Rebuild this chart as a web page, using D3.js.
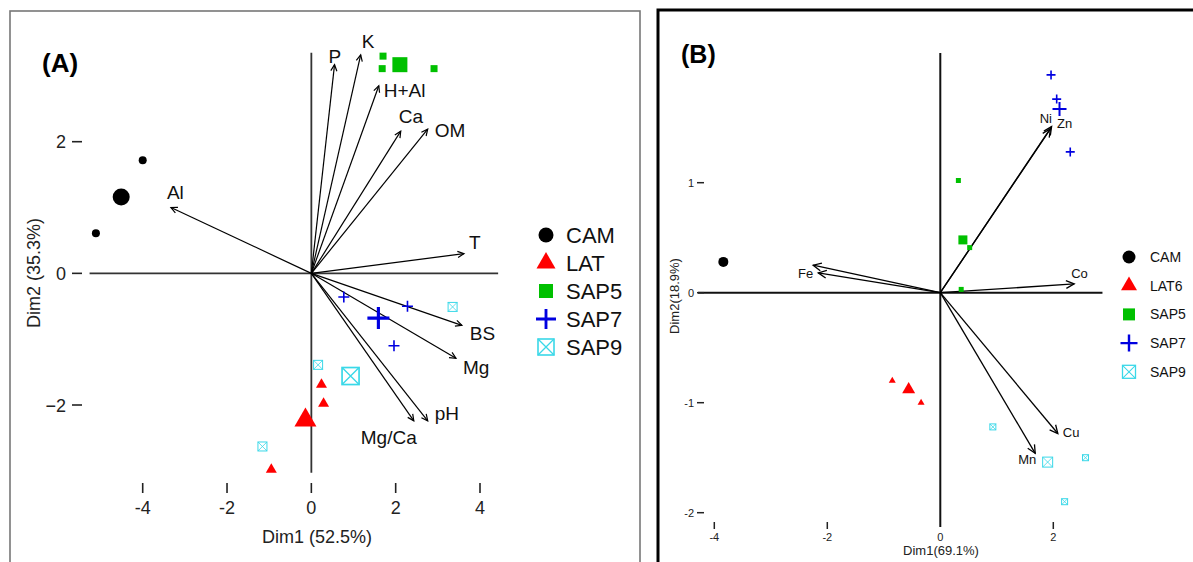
<!DOCTYPE html>
<html>
<head>
<meta charset="utf-8">
<script src="https://cdn.jsdelivr.net/npm/d3@7"></script>
<style>
  body { margin: 0; background: #fff; }
  text { font-family: "Liberation Sans", Arial, sans-serif; }
</style>
</head>
<body>
<script>
// ---- data ----
// panel A: soil attributes
var groupsA = ["CAM", "LAT", "SAP5", "SAP7", "SAP9"];
var ptGroupA = ["CAM", "CAM", "CAM", "LAT", "LAT", "LAT", "LAT", "SAP5", "SAP5", "SAP5", "SAP5", "SAP7", "SAP7", "SAP7", "SAP7", "SAP9", "SAP9", "SAP9", "SAP9"];
var ptXA = [-4.0, -5.11, -4.51, 0.24, 0.29, -0.14, -0.95, 1.70, 1.68, 2.10, 2.91, 0.77, 2.28, 1.59, 1.96, 3.35, 0.16, 0.93, -1.16];
var ptYA = [1.72, 0.61, 1.16, -1.69, -1.98, -2.23, -2.98, 3.30, 3.11, 3.17, 3.11, -0.36, -0.50, -0.68, -1.10, -0.51, -1.39, -1.56, -2.63];
var ptMeanA = [0, 0, 1, 0, 0, 1, 0, 0, 0, 1, 0, 0, 0, 1, 0, 0, 0, 1, 0];
var varsA = ["P", "K", "H+Al", "Ca", "OM", "T", "Al", "BS", "Mg", "pH", "Mg/Ca"];
var varXA = [0.55, 1.17, 1.60, 2.12, 2.76, 3.62, -3.33, 3.57, 3.43, 2.76, 2.43];
var varYA = [3.17, 3.32, 2.85, 2.16, 2.19, 0.30, 1.00, -0.79, -1.29, -2.24, -2.24];
var ticksXA = [-4, -2, 0, 2, 4];
var ticksYA = [-2, 0, 2];

// panel B: micronutrients
var groupsB = ["CAM", "LAT6", "SAP5", "SAP7", "SAP9"];
var ptGroupB = ["CAM", "LAT6", "LAT6", "LAT6", "SAP5", "SAP5", "SAP5", "SAP5", "SAP7", "SAP7", "SAP7", "SAP7", "SAP9", "SAP9", "SAP9", "SAP9"];
var ptXB = [-3.84, -0.85, -0.56, -0.34, 0.32, 0.40, 0.52, 0.37, 1.96, 2.06, 2.11, 2.30, 0.93, 1.90, 2.57, 2.20];
var ptYB = [0.28, -0.80, -0.88, -1.00, 1.02, 0.48, 0.41, 0.03, 1.98, 1.76, 1.67, 1.28, -1.22, -1.54, -1.50, -1.90];
var ptMeanB = [1, 0, 1, 0, 0, 1, 0, 0, 0, 0, 1, 0, 0, 1, 0, 0];
var varsB = ["", "Fe", "Ni", "Zn", "Co", "Cu", "Mn"];
var varXB = [-2.25, -2.16, 1.95, 1.97, 2.37, 2.08, 1.68];
var varYB = [0.25, 0.18, 1.49, 1.51, 0.08, -1.28, -1.46];
var ticksXB = [-4, -2, 0, 2];
var ticksYB = [-2, -1, 0, 1];

// ---- styling / layout ----
var colors = { CAM: "#000000", LAT: "#ff0000", LAT6: "#ff0000", SAP5: "#00c000", SAP7: "#0000e0", SAP9: "#3ad8e8" };
var shapes = { CAM: "circle", LAT: "tri", LAT6: "tri", SAP5: "square", SAP7: "plus", SAP9: "box" };

// label offsets from arrow tips (px): [dx, dy, anchor]
var labOffA = {
  "P": [-6, -2, "start"], "K": [1, -7, "start"], "H+Al": [5, 11, "start"], "Ca": [-2, -8, "start"],
  "OM": [7, 8, "start"], "T": [5, -5, "start"], "Al": [-4, -9, "start"], "BS": [8, 15, "start"],
  "Mg": [7, 16, "start"], "pH": [7, -1, "start"], "Mg/Ca": [-53, 23, "start"]
};
var labOffB = {
  "Fe": [-5, 5, "end"], "Ni": [1.5, -6, "end"], "Zn": [5.5, 1, "start"], "Co": [-3, -6, "start"],
  "Cu": [5, 3, "start"], "Mn": [1, 11, "end"]
};

var svg = d3.select("body").append("svg").attr("width", 1193).attr("height", 562);

function drawSym(g, grp, cx, cy, s) {
  var c = colors[grp], sh = shapes[grp];
  if (sh == "circle") {
    g.append("circle").attr("cx", cx).attr("cy", cy).attr("r", s / 2).attr("fill", c);
  } else if (sh == "tri") {
    var h = s * 0.866;
    g.append("path").attr("d", "M" + cx + "," + (cy - h * 2 / 3) + "L" + (cx - s / 2) + "," + (cy + h / 3) + "L" + (cx + s / 2) + "," + (cy + h / 3) + "Z").attr("fill", c);
  } else if (sh == "square") {
    g.append("rect").attr("x", cx - s / 2).attr("y", cy - s / 2).attr("width", s).attr("height", s).attr("fill", c);
  } else if (sh == "plus") {
    var w = Math.max(1.6, s / 7);
    g.append("path").attr("d", "M" + (cx - s / 2) + "," + cy + "H" + (cx + s / 2) + "M" + cx + "," + (cy - s / 2) + "V" + (cy + s / 2))
      .attr("stroke", c).attr("stroke-width", w).attr("fill", "none");
  } else {
    var r = s / 2, sw = Math.max(1, s / 10);
    g.append("rect").attr("x", cx - r).attr("y", cy - r).attr("width", s).attr("height", s)
      .attr("fill", "none").attr("stroke", c).attr("stroke-width", sw);
    g.append("path").attr("d", "M" + (cx - r) + "," + (cy - r) + "L" + (cx + r) + "," + (cy + r) + "M" + (cx + r) + "," + (cy - r) + "L" + (cx - r) + "," + (cy + r))
      .attr("stroke", c).attr("stroke-width", sw * 0.8);
  }
}

function arrow(g, x0, y0, x1, y1, len, width) {
  var a = Math.atan2(y1 - y0, x1 - x0), sp = 0.45;
  g.append("line").attr("x1", x0).attr("y1", y0).attr("x2", x1).attr("y2", y1)
    .attr("stroke", "#000").attr("stroke-width", width);
  g.append("path")
    .attr("d", "M" + (x1 - len * Math.cos(a - sp)) + "," + (y1 - len * Math.sin(a - sp)) + "L" + x1 + "," + y1 +
      "L" + (x1 - len * Math.cos(a + sp)) + "," + (y1 - len * Math.sin(a + sp)))
    .attr("stroke", "#000").attr("stroke-width", width).attr("fill", "none");
}

// ================= panel A =================
var gA = svg.append("g");
gA.append("rect").attr("x", 10).attr("y", 11).attr("width", 630).attr("height", 570)
  .attr("fill", "none").attr("stroke", "#777").attr("stroke-width", 1.6);

var xA = d3.scaleLinear().domain([-4, 4]).range([142.7, 480]);
var yA = d3.scaleLinear().domain([-2, 2]).range([405, 141.7]);

// zero lines
gA.append("line").attr("x1", xA(-5.26)).attr("x2", xA(4.43)).attr("y1", yA(0)).attr("y2", yA(0))
  .attr("stroke", "#333").attr("stroke-width", 1.8);
gA.append("line").attr("x1", xA(0)).attr("x2", xA(0)).attr("y1", yA(3.35)).attr("y2", yA(-3.03))
  .attr("stroke", "#333").attr("stroke-width", 1.8);

// ticks
ticksXA.forEach(function (t) {
  gA.append("line").attr("x1", xA(t)).attr("x2", xA(t)).attr("y1", 483).attr("y2", 493)
    .attr("stroke", "#222").attr("stroke-width", 1.6);
  gA.append("text").attr("x", xA(t)).attr("y", 514).attr("text-anchor", "middle")
    .attr("font-size", 18).attr("fill", "#222").text(String(t));
});
ticksYA.forEach(function (t) {
  gA.append("line").attr("x1", 72).attr("x2", 82).attr("y1", yA(t)).attr("y2", yA(t))
    .attr("stroke", "#222").attr("stroke-width", 1.6);
  gA.append("text").attr("x", 66).attr("y", yA(t) + 6.5).attr("text-anchor", "end")
    .attr("font-size", 18).attr("fill", "#222").text(String(t).replace("-", "\u2212"));
});

gA.append("text").attr("x", 317).attr("y", 543).attr("text-anchor", "middle")
  .attr("font-size", 18).attr("fill", "#222").text("Dim1 (52.5%)");
gA.append("text").attr("transform", "translate(40,273) rotate(-90)").attr("text-anchor", "middle")
  .attr("font-size", 18).attr("fill", "#222").text("Dim2 (35.3%)");
gA.append("text").attr("x", 42).attr("y", 72).attr("font-size", 26).attr("font-weight", "bold").text("(A)");

// variable arrows
varsA.forEach(function (v, i) {
  var tx = xA(varXA[i]), ty = yA(varYA[i]);
  arrow(gA, xA(0), yA(0), tx, ty, 7, 1.2);
  var o = labOffA[v];
  gA.append("text").attr("x", tx + o[0]).attr("y", ty + o[1]).attr("text-anchor", o[2])
    .attr("font-size", 19).attr("fill", "#111").text(v);
});

// individuals
var sizeA = { circle: [8, 17], tri: [11, 22], square: [7, 15], plus: [11, 22], box: [9, 17] };
ptGroupA.forEach(function (grp, i) {
  drawSym(gA, grp, xA(ptXA[i]), yA(ptYA[i]), sizeA[shapes[grp]][ptMeanA[i]]);
});

// legend A
var legSizeA = { circle: 15, tri: 19, square: 14, plus: 20, box: 16 };
groupsA.forEach(function (grp, i) {
  var ly = 235 + i * 28;
  drawSym(gA, grp, 546, ly, legSizeA[shapes[grp]]);
  gA.append("text").attr("x", 566).attr("y", ly + 8).attr("font-size", 22).attr("fill", "#111").text(grp);
});

// ================= panel B =================
var gB = svg.append("g");
gB.append("rect").attr("x", 658).attr("y", 10).attr("width", 600).attr("height", 580)
  .attr("fill", "none").attr("stroke", "#000").attr("stroke-width", 3);

var xB = d3.scaleLinear().domain([-4, 2]).range([714.3, 1053.3]);
var yB = d3.scaleLinear().domain([-2, 1]).range([512.7, 182.7]);

gB.append("line").attr("x1", xB(-4.29)).attr("x2", xB(2.87)).attr("y1", yB(0)).attr("y2", yB(0))
  .attr("stroke", "#111").attr("stroke-width", 2);
gB.append("line").attr("x1", xB(0)).attr("x2", xB(0)).attr("y1", yB(2.18)).attr("y2", yB(-2.13))
  .attr("stroke", "#111").attr("stroke-width", 2);

ticksXB.forEach(function (t) {
  if (t != 0) {
    gB.append("line").attr("x1", xB(t)).attr("x2", xB(t)).attr("y1", 522).attr("y2", 529)
      .attr("stroke", "#222").attr("stroke-width", 1.5);
  }
  gB.append("text").attr("x", xB(t)).attr("y", 541).attr("text-anchor", "middle")
    .attr("font-size", 11).attr("fill", "#222").text(String(t));
});
ticksYB.forEach(function (t) {
  gB.append("line").attr("x1", 697).attr("x2", 704).attr("y1", yB(t)).attr("y2", yB(t))
    .attr("stroke", "#222").attr("stroke-width", 1.5);
  gB.append("text").attr("x", 694).attr("y", yB(t) + 4).attr("text-anchor", "end")
    .attr("font-size", 11).attr("fill", "#222").text(String(t));
});

gB.append("text").attr("x", 941).attr("y", 555).attr("text-anchor", "middle")
  .attr("font-size", 13).attr("fill", "#222").text("Dim1(69.1%)");
gB.append("text").attr("transform", "translate(679,296) rotate(-90)").attr("text-anchor", "middle")
  .attr("font-size", 13).attr("fill", "#222").text("Dim2(18.9%)");
gB.append("text").attr("x", 681).attr("y", 63).attr("font-size", 25).attr("font-weight", "bold").text("(B)");

varsB.forEach(function (v, i) {
  var tx = xB(varXB[i]), ty = yB(varYB[i]);
  arrow(gB, xB(0), yB(0), tx, ty, 9, 1.3);
  if (v) {
    var o = labOffB[v];
    gB.append("text").attr("x", tx + o[0]).attr("y", ty + o[1]).attr("text-anchor", o[2])
      .attr("font-size", 13).attr("fill", "#111").text(v);
  }
});

var sizeB = { circle: [10, 10], tri: [7, 13], square: [5, 9], plus: [9, 14], box: [6, 10] };
ptGroupB.forEach(function (grp, i) {
  drawSym(gB, grp, xB(ptXB[i]), yB(ptYB[i]), sizeB[shapes[grp]][ptMeanB[i]]);
});

var legSizeB = { circle: 13, tri: 16, square: 12, plus: 17, box: 13 };
groupsB.forEach(function (grp, i) {
  var ly = 257 + i * 28.7;
  drawSym(gB, grp, 1129, ly, legSizeB[shapes[grp]]);
  gB.append("text").attr("x", 1150).attr("y", ly + 5).attr("font-size", 14).attr("fill", "#111").text(grp);
});
</script>
</body>
</html>
